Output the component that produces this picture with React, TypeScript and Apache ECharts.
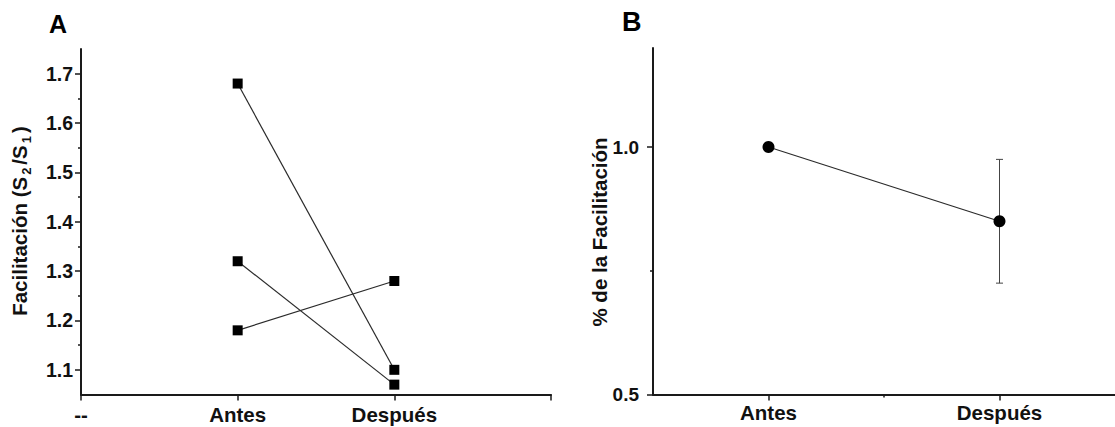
import React, { useEffect, useRef } from "react";
import * as echarts from "echarts";

// ---- Panel A data ----
const categoriesA = ["--", "Antes", "Después", ""];
const subject1 = [1.68, 1.1];
const subject2 = [1.32, 1.07];
const subject3 = [1.18, 1.28];
const yTicksA = [1.1, 1.2, 1.3, 1.4, 1.5, 1.6, 1.7];
const yMinorA = [1.15, 1.25, 1.35, 1.45, 1.55, 1.65];

// ---- Panel B data ----
const categoriesB = ["Antes", "Después"];
const meanB = [1.0, 0.85];
const errLowB = [0.725];
const errHighB = [0.975];
const yTicksB = [0.5, 1.0];
const yMinorB = [0.75];
const xMinorB = [1.5];

const FONT = "'Liberation Sans', Arial, Helvetica, sans-serif";
const AX = "#1a1a1a";

export default function App() {
  const ref = useRef<HTMLDivElement>(null);
  useEffect(() => {
    if (!ref.current) return;
    const chart = echarts.init(ref.current, undefined, { renderer: "svg" });

    const lineSeries = (vals: number[], name: string) => ({
      type: "line",
      name,
      xAxisIndex: 0,
      yAxisIndex: 0,
      data: vals.map((v, i) => [i + 1, v]),
      symbol: "rect",
      symbolSize: 10,
      itemStyle: { color: "#000" },
      lineStyle: { color: "#2a2a2a", width: 1.2 },
      z: 5,
    });

    const tickLabel = {
      fontFamily: FONT,
      fontWeight: "bold",
      color: "#111",
    };

    const option: any = {
      animation: false,
      backgroundColor: "#fff",
      grid: [
        { left: 81, top: 49, width: 470, height: 345.5 },
        { left: 653, top: 48, width: 468, height: 346.5 },
      ],
      xAxis: [
        {
          type: "value",
          gridIndex: 0,
          min: 0,
          max: 3,
          interval: 1,
          axisLine: { lineStyle: { color: AX, width: 2 } },
          axisTick: { length: 6, lineStyle: { color: AX, width: 1.5 } },
          axisLabel: {
            ...tickLabel,
            fontSize: 20.5,
            margin: 9,
            formatter: (v: number) => categoriesA[Math.round(v)] ?? "",
          },
          splitLine: { show: false },
        },
        {
          type: "value",
          gridIndex: 1,
          min: 0.5,
          max: 2.5,
          axisLine: { lineStyle: { color: AX, width: 2 } },
          axisTick: { length: 6, customValues: [1, 2], lineStyle: { color: AX, width: 1.5 } },
          axisLabel: {
            ...tickLabel,
            fontSize: 20.5,
            margin: 7,
            customValues: [1, 2],
            formatter: (v: number) => categoriesB[Math.round(v) - 1] ?? "",
          },
          splitLine: { show: false },
        },
        {
          type: "value",
          gridIndex: 1,
          min: 0.5,
          max: 2.5,
          position: "bottom",
          axisLine: { show: false },
          axisTick: { length: 3, customValues: xMinorB, lineStyle: { color: AX, width: 1.5 } },
          axisLabel: { show: false },
          splitLine: { show: false },
        },
      ],
      yAxis: [
        {
          type: "value",
          gridIndex: 0,
          min: 1.05,
          max: 1.75,
          position: "left",
          axisLine: { show: true, lineStyle: { color: AX, width: 2 } },
          axisTick: { show: true, length: 6, customValues: yTicksA, lineStyle: { color: AX, width: 1.5 } },
          axisLabel: {
            ...tickLabel,
            fontSize: 19.5,
            margin: 8,
            customValues: yTicksA,
            formatter: (v: number) => v.toFixed(1),
          },
          splitLine: { show: false },
        },
        {
          type: "value",
          gridIndex: 0,
          min: 1.05,
          max: 1.75,
          position: "left",
          offset: 0,
          axisLine: { show: false },
          axisTick: { show: true, length: 3, customValues: yMinorA, lineStyle: { color: AX, width: 1.5 } },
          axisLabel: { show: false },
          splitLine: { show: false },
        },
        {
          type: "value",
          gridIndex: 1,
          min: 0.5,
          max: 1.2,
          position: "left",
          axisLine: { show: true, lineStyle: { color: AX, width: 2 } },
          axisTick: { show: true, length: 6, customValues: yTicksB, lineStyle: { color: AX, width: 1.5 } },
          axisLabel: {
            ...tickLabel,
            fontSize: 19,
            margin: 14,
            customValues: yTicksB,
            formatter: (v: number) => v.toFixed(1),
          },
          splitLine: { show: false },
        },
        {
          type: "value",
          gridIndex: 1,
          min: 0.5,
          max: 1.2,
          position: "left",
          offset: 0,
          axisLine: { show: false },
          axisTick: { show: true, length: 3, customValues: yMinorB, lineStyle: { color: AX, width: 1.5 } },
          axisLabel: { show: false },
          splitLine: { show: false },
        },
      ],
      series: [
        lineSeries(subject1, "S1"),
        lineSeries(subject2, "S2"),
        lineSeries(subject3, "S3"),
        {
          type: "custom",
          xAxisIndex: 1,
          yAxisIndex: 2,
          data: errLowB.map((lo, i) => [2 + i, lo, errHighB[i]]),
          encode: { x: 0, y: [1, 2] },
          renderItem: (params: any, api: any) => {
            const x = api.value(0);
            const lo = api.coord([x, api.value(1)]);
            const hi = api.coord([x, api.value(2)]);
            const w = 3.5;
            const st = { stroke: "#444", lineWidth: 1 };
            return {
              type: "group",
              children: [
                { type: "line", shape: { x1: lo[0], y1: lo[1], x2: hi[0], y2: hi[1] }, style: st },
                { type: "line", shape: { x1: lo[0] - w, y1: lo[1], x2: lo[0] + w, y2: lo[1] }, style: st },
                { type: "line", shape: { x1: hi[0] - w, y1: hi[1], x2: hi[0] + w, y2: hi[1] }, style: st },
              ],
            };
          },
          z: 3,
        },
        {
          type: "line",
          xAxisIndex: 1,
          yAxisIndex: 2,
          data: meanB.map((v, i) => [i + 1, v]),
          symbol: "circle",
          symbolSize: 12,
          itemStyle: { color: "#000" },
          lineStyle: { color: "#2a2a2a", width: 1.2 },
          z: 5,
        },
      ],
      graphic: [
        {
          type: "text",
          left: 49,
          top: 11,
          style: { text: "A", font: `bold 25px ${FONT}`, fill: "#000" },
        },
        {
          type: "text",
          left: 622,
          top: 8,
          style: { text: "B", font: `bold 27px ${FONT}`, fill: "#000" },
        },
        {
          type: "text",
          x: 19,
          y: 221,
          rotation: Math.PI / 2,
          style: {
            text: "{a|Facilitación (S}{s|2}{a|/S}{s|1}{a|)}",
            align: "center",
            verticalAlign: "middle",
            fill: "#111",
            rich: {
              a: { font: `bold 20.5px ${FONT}`, lineHeight: 28, fill: "#111" },
              s: { font: `bold 13px ${FONT}`, verticalAlign: "bottom", lineHeight: 28, fill: "#111", padding: [0, 3, 0, 2] },
            },
          },
        },
        {
          type: "text",
          x: 599,
          y: 232,
          rotation: Math.PI / 2,
          style: {
            text: "% de la Facilitación",
            align: "center",
            verticalAlign: "middle",
            font: `bold 20.5px ${FONT}`,
            fill: "#111",
          },
        },
      ],
    };

    chart.setOption(option);
    return () => chart.dispose();
  }, []);

  return (
    <div
      ref={ref}
      style={{ position: "fixed", left: 0, top: 0, width: 1115, height: 427, background: "#fff" }}
    />
  );
}
